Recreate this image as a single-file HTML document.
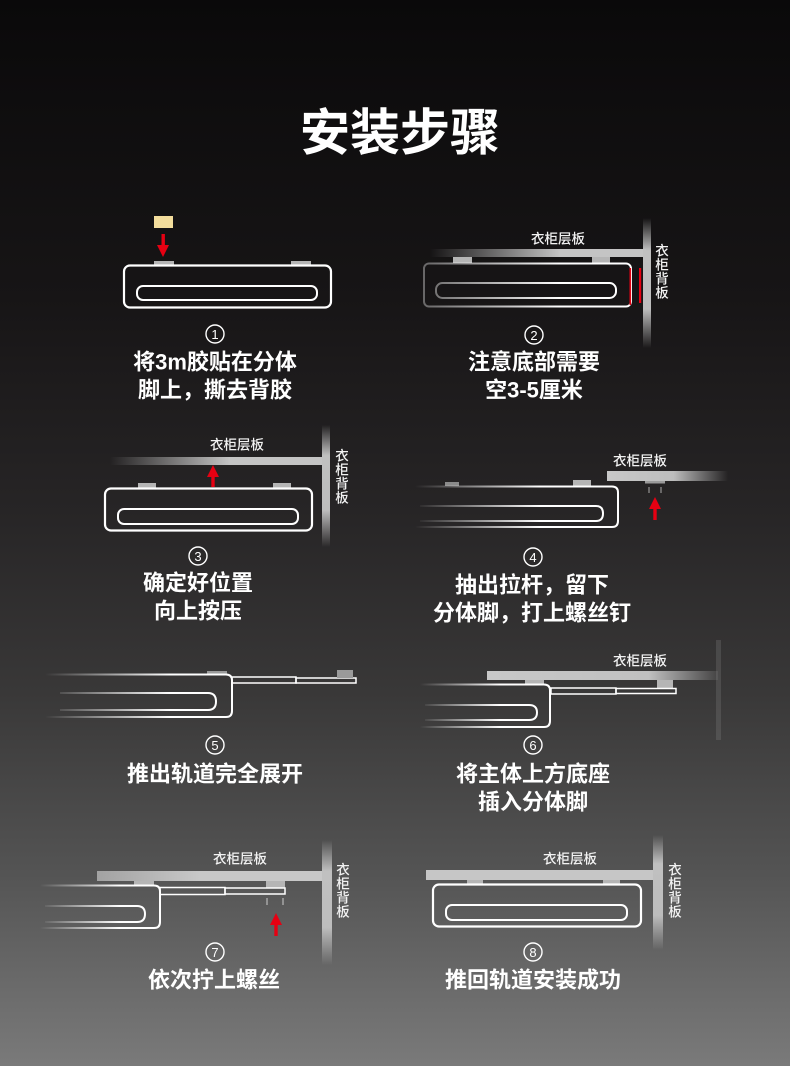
<!DOCTYPE html>
<html><head><meta charset="utf-8">
<style>
html,body{margin:0;padding:0;}
body{width:790px;height:1066px;overflow:hidden;}
svg{display:block;}
text{font-family:"Liberation Sans","Noto Sans CJK SC",sans-serif;fill:#fff;}
.t{font-size:22px;font-weight:700;text-anchor:middle;dominant-baseline:central;}
.l{font-size:13.5px;font-weight:500;text-anchor:middle;dominant-baseline:central;fill:#f2f2f2;}
.n{font-size:13px;text-anchor:middle;dominant-baseline:central;}
</style></head>
<body>
<svg width="790" height="1066" viewBox="0 0 790 1066" xmlns="http://www.w3.org/2000/svg">
<defs>
<linearGradient id="bg" x1="0" y1="0" x2="0" y2="1">
<stop offset="0" stop-color="#0a090a"/>
<stop offset="0.28" stop-color="#171516"/>
<stop offset="0.48" stop-color="#272526"/>
<stop offset="0.65" stop-color="#393838"/>
<stop offset="0.82" stop-color="#545454"/>
<stop offset="1" stop-color="#7a7a7a"/>
</linearGradient>
<!-- shelves -->
<linearGradient id="sh2" gradientUnits="userSpaceOnUse" x1="430" y1="0" x2="560" y2="0">
<stop offset="0" stop-color="#c4c4c4" stop-opacity="0"/><stop offset="1" stop-color="#c4c4c4"/></linearGradient>
<linearGradient id="sh3" gradientUnits="userSpaceOnUse" x1="110" y1="0" x2="230" y2="0">
<stop offset="0" stop-color="#c4c4c4" stop-opacity="0"/><stop offset="1" stop-color="#c4c4c4"/></linearGradient>
<linearGradient id="sh4" gradientUnits="userSpaceOnUse" x1="607" y1="0" x2="728" y2="0">
<stop offset="0" stop-color="#c8c8c8"/><stop offset="0.55" stop-color="#bdbdbd"/><stop offset="1" stop-color="#bdbdbd" stop-opacity="0"/></linearGradient>
<linearGradient id="sh6" gradientUnits="userSpaceOnUse" x1="487" y1="0" x2="718" y2="0">
<stop offset="0" stop-color="#c8c8c8"/><stop offset="0.7" stop-color="#c0c0c0"/><stop offset="1" stop-color="#c0c0c0" stop-opacity="0.1"/></linearGradient>
<linearGradient id="sh7" gradientUnits="userSpaceOnUse" x1="97" y1="0" x2="200" y2="0">
<stop offset="0" stop-color="#c4c4c4" stop-opacity="0.7"/><stop offset="1" stop-color="#c8c8c8"/></linearGradient>
<linearGradient id="vb" x1="0" y1="0" x2="0" y2="1">
<stop offset="0" stop-color="#c0c0c0" stop-opacity="0"/><stop offset="0.25" stop-color="#c0c0c0"/>
<stop offset="0.7" stop-color="#bdbdbd"/><stop offset="1" stop-color="#bdbdbd" stop-opacity="0"/></linearGradient>
<!-- bodies -->
<linearGradient id="b2" gradientUnits="userSpaceOnUse" x1="424" y1="0" x2="560" y2="0">
<stop offset="0" stop-color="#fff" stop-opacity="0.35"/><stop offset="1" stop-color="#fff"/></linearGradient>
<linearGradient id="b4" gradientUnits="userSpaceOnUse" x1="415" y1="0" x2="540" y2="0">
<stop offset="0" stop-color="#fff" stop-opacity="0"/><stop offset="1" stop-color="#fff"/></linearGradient>
<linearGradient id="b5" gradientUnits="userSpaceOnUse" x1="45" y1="0" x2="170" y2="0">
<stop offset="0" stop-color="#fff" stop-opacity="0"/><stop offset="1" stop-color="#fff"/></linearGradient>
<linearGradient id="b6" gradientUnits="userSpaceOnUse" x1="420" y1="0" x2="500" y2="0">
<stop offset="0" stop-color="#fff" stop-opacity="0"/><stop offset="1" stop-color="#fff"/></linearGradient>
<linearGradient id="b7" gradientUnits="userSpaceOnUse" x1="40" y1="0" x2="120" y2="0">
<stop offset="0" stop-color="#fff" stop-opacity="0"/><stop offset="1" stop-color="#fff"/></linearGradient>
</defs>

<rect x="0" y="0" width="790" height="1066" fill="url(#bg)"/>

<!-- Title -->
<text x="400" y="133" style="font-size:50px;font-weight:700;text-anchor:middle;dominant-baseline:central;">安装步骤</text>

<!-- ========== Panel 1 ========== -->
<rect x="154" y="216" width="19" height="12" fill="#f3dd9c"/>
<rect x="161.5" y="234" width="3.4" height="12" fill="#e60012"/>
<polygon points="157,245 169,245 163,257" fill="#e60012"/>
<rect x="154" y="261" width="20" height="5" fill="#b5b5b5"/>
<rect x="291" y="261" width="20" height="5" fill="#b5b5b5"/>
<rect x="124" y="265.5" width="207" height="42" rx="6" fill="none" stroke="#fff" stroke-width="2.2"/>
<rect x="137" y="286" width="180" height="14" rx="6" fill="none" stroke="#fff" stroke-width="2"/>
<circle cx="215" cy="334" r="9" fill="none" stroke="#fff" stroke-width="1.4"/>
<text class="n" x="215" y="334.5">1</text>
<text class="t" x="215" y="362">将3m胶贴在分体</text>
<text class="t" x="215" y="390">脚上，撕去背胶</text>

<!-- ========== Panel 2 ========== -->
<rect x="430" y="249" width="216" height="8" fill="url(#sh2)"/>
<rect x="643" y="218" width="8" height="130" fill="url(#vb)"/>
<text class="l" x="558" y="239">衣柜层板</text>
<text class="l" x="662" y="251">衣</text>
<text class="l" x="662" y="265">柜</text>
<text class="l" x="662" y="279">背</text>
<text class="l" x="662" y="293">板</text>
<rect x="453" y="257" width="19" height="6" fill="#b5b5b5"/>
<rect x="592" y="257" width="18" height="6" fill="#b5b5b5"/>
<rect x="424" y="263.5" width="207" height="43" rx="5" fill="none" stroke="url(#b2)" stroke-width="2"/>
<rect x="436" y="283" width="180" height="15" rx="6.5" fill="none" stroke="url(#b2)" stroke-width="2"/>
<rect x="629.5" y="268" width="1.6" height="37" fill="#e60012"/>
<rect x="639" y="268" width="2.2" height="35" fill="#e60012"/>
<circle cx="534" cy="335" r="9" fill="none" stroke="#fff" stroke-width="1.4"/>
<text class="n" x="534" y="335.5">2</text>
<text class="t" x="534" y="362">注意底部需要</text>
<text class="t" x="534" y="390">空3-5厘米</text>

<!-- ========== Panel 3 ========== -->
<rect x="110" y="457" width="214" height="8" fill="url(#sh3)"/>
<rect x="322" y="425" width="8" height="122" fill="url(#vb)"/>
<text class="l" x="237" y="445">衣柜层板</text>
<text class="l" x="342" y="456">衣</text>
<text class="l" x="342" y="470">柜</text>
<text class="l" x="342" y="484">背</text>
<text class="l" x="342" y="498">板</text>
<polygon points="213,465 207,477 219,477" fill="#e60012"/>
<rect x="211.3" y="476" width="3.4" height="11" fill="#e60012"/>
<rect x="138" y="483" width="18" height="5" fill="#b5b5b5"/>
<rect x="273" y="483" width="18" height="5" fill="#b5b5b5"/>
<rect x="105" y="488.5" width="207" height="42" rx="6" fill="none" stroke="#fff" stroke-width="2.2"/>
<rect x="118" y="509" width="180" height="15" rx="6" fill="none" stroke="#fff" stroke-width="2"/>
<circle cx="198" cy="556" r="9" fill="none" stroke="#fff" stroke-width="1.4"/>
<text class="n" x="198" y="556.5">3</text>
<text class="t" x="198" y="583">确定好位置</text>
<text class="t" x="198" y="611">向上按压</text>

<!-- ========== Panel 4 ========== -->
<rect x="607" y="471" width="121" height="10" fill="url(#sh4)"/>
<text class="l" x="640" y="461">衣柜层板</text>
<rect x="645" y="481" width="20" height="2.5" fill="#9a9a9a"/>
<rect x="648.5" y="487" width="1" height="6" fill="#aaa"/>
<rect x="660.5" y="487" width="1" height="6" fill="#aaa"/>
<polygon points="655,497 649,509 661,509" fill="#e60012"/>
<rect x="653.3" y="508" width="3.4" height="12" fill="#e60012"/>
<rect x="445" y="482" width="14" height="4" fill="#8a8a8a"/>
<rect x="573" y="480" width="18" height="6" fill="#b5b5b5"/>
<path d="M415 486.5 H612 Q618 486.5 618 492.5 V521 Q618 527 612 527 H415" fill="none" stroke="url(#b4)" stroke-width="2"/>
<path d="M420 506 H596 Q603 506 603 513.5 Q603 521 596 521 H420" fill="none" stroke="url(#b4)" stroke-width="2"/>
<circle cx="533" cy="557" r="9" fill="none" stroke="#fff" stroke-width="1.4"/>
<text class="n" x="533" y="557.5">4</text>
<text class="t" x="532" y="585">抽出拉杆，留下</text>
<text class="t" x="532" y="613">分体脚，打上螺丝钉</text>

<!-- ========== Panel 5 ========== -->
<rect x="207" y="671" width="20" height="3" fill="#9a9a9a"/>
<path d="M45 674.5 H226 Q232 674.5 232 680.5 V711 Q232 717 226 717 H45" fill="none" stroke="url(#b5)" stroke-width="2"/>
<path d="M60 693 H208 Q216 693 216 701.5 Q216 710 208 710 H60" fill="none" stroke="url(#b5)" stroke-width="2"/>
<rect x="232" y="677" width="64" height="6" fill="none" stroke="#fff" stroke-width="1.5"/>
<rect x="296" y="678" width="60" height="5" fill="none" stroke="#fff" stroke-width="1.5"/>
<rect x="337" y="670" width="16" height="8" fill="#9a9a9a"/>
<circle cx="215" cy="745" r="9" fill="none" stroke="#fff" stroke-width="1.4"/>
<text class="n" x="215" y="745.5">5</text>
<text class="t" x="215" y="774">推出轨道完全展开</text>

<!-- ========== Panel 6 ========== -->
<rect x="716" y="640" width="5" height="100" fill="#8a8a8a" opacity="0.25"/>
<rect x="487" y="671" width="231" height="9" fill="url(#sh6)"/>
<text class="l" x="640" y="661">衣柜层板</text>
<rect x="525" y="680" width="19" height="5" fill="#b5b5b5"/>
<rect x="657" y="680" width="16" height="8" fill="#b5b5b5"/>
<path d="M420 684.5 H544 Q550 684.5 550 690.5 V721 Q550 727 544 727 H420" fill="none" stroke="url(#b6)" stroke-width="2"/>
<path d="M425 705 H529 Q537 705 537 712.5 Q537 720 529 720 H425" fill="none" stroke="url(#b6)" stroke-width="2"/>
<rect x="551" y="688" width="65" height="6" fill="none" stroke="#fff" stroke-width="1.5"/>
<rect x="616" y="688.5" width="60" height="5" fill="none" stroke="#fff" stroke-width="1.5"/>
<circle cx="533" cy="745" r="9" fill="none" stroke="#fff" stroke-width="1.4"/>
<text class="n" x="533" y="745.5">6</text>
<text class="t" x="533" y="774">将主体上方底座</text>
<text class="t" x="533" y="802">插入分体脚</text>

<!-- ========== Panel 7 ========== -->
<rect x="97" y="871" width="227" height="10" fill="url(#sh7)"/>
<rect x="322" y="840" width="10" height="125" fill="url(#vb)"/>
<text class="l" x="240" y="859">衣柜层板</text>
<text class="l" x="343" y="870">衣</text>
<text class="l" x="343" y="884">柜</text>
<text class="l" x="343" y="898">背</text>
<text class="l" x="343" y="912">板</text>
<rect x="134" y="881" width="20" height="5" fill="#b5b5b5"/>
<rect x="266" y="881" width="19" height="7" fill="#b5b5b5"/>
<path d="M40 885.5 H154 Q160 885.5 160 891.5 V922 Q160 928 154 928 H40" fill="none" stroke="url(#b7)" stroke-width="2"/>
<path d="M45 906 H137 Q145 906 145 914 Q145 922 137 922 H45" fill="none" stroke="url(#b7)" stroke-width="2"/>
<rect x="160" y="887.5" width="65" height="7" fill="none" stroke="#fff" stroke-width="1.5"/>
<rect x="225" y="888" width="60" height="6" fill="none" stroke="#fff" stroke-width="1.5"/>
<rect x="266.5" y="898" width="1" height="7" fill="#ccc"/>
<rect x="282.5" y="898" width="1" height="7" fill="#ccc"/>
<polygon points="276,913 270,925 282,925" fill="#e60012"/>
<rect x="274.3" y="924" width="3.4" height="12" fill="#e60012"/>
<circle cx="215" cy="952" r="9" fill="none" stroke="#fff" stroke-width="1.4"/>
<text class="n" x="215" y="952.5">7</text>
<text class="t" x="214" y="980">依次拧上螺丝</text>

<!-- ========== Panel 8 ========== -->
<rect x="426" y="870" width="229" height="10" fill="#c6c6c6"/>
<rect x="653" y="835" width="10" height="115" fill="url(#vb)"/>
<text class="l" x="570" y="859">衣柜层板</text>
<text class="l" x="675" y="870">衣</text>
<text class="l" x="675" y="884">柜</text>
<text class="l" x="675" y="898">背</text>
<text class="l" x="675" y="912">板</text>
<rect x="467" y="880" width="16" height="5" fill="#b5b5b5"/>
<rect x="603" y="880" width="17" height="5" fill="#b5b5b5"/>
<rect x="433" y="884.5" width="208" height="42" rx="6" fill="none" stroke="#fff" stroke-width="2.2"/>
<rect x="446" y="905" width="181" height="15" rx="6" fill="none" stroke="#fff" stroke-width="2"/>
<circle cx="533" cy="952" r="9" fill="none" stroke="#fff" stroke-width="1.4"/>
<text class="n" x="533" y="952.5">8</text>
<text class="t" x="533" y="980">推回轨道安装成功</text>
</svg>
</body></html>
